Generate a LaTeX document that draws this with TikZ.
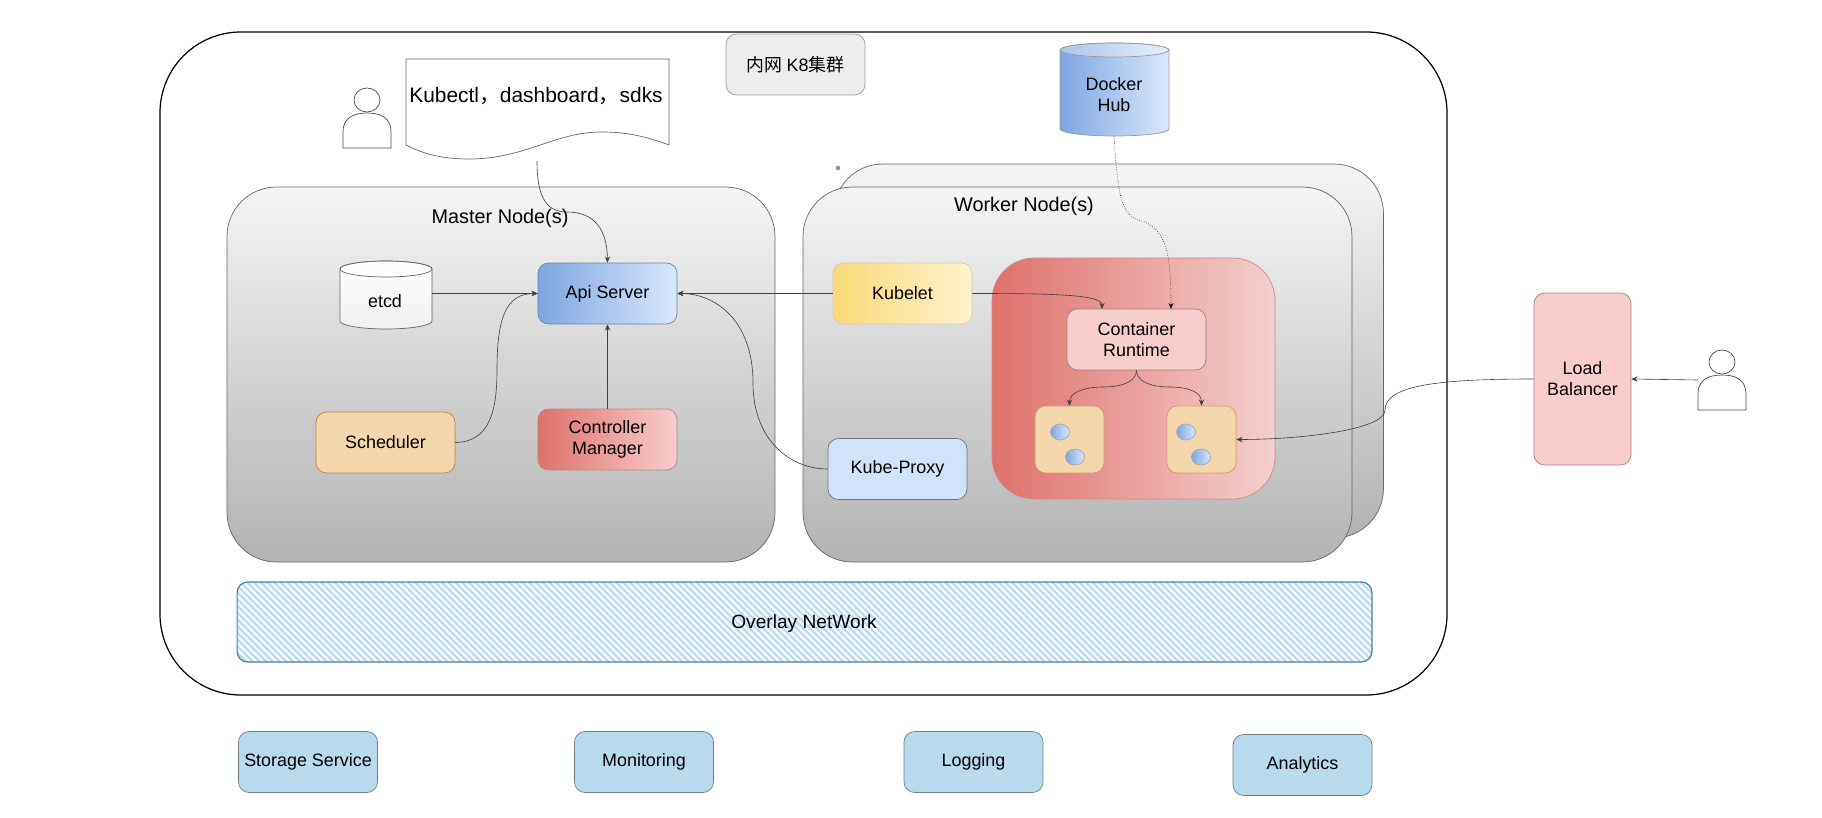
\documentclass[tikz,border=0pt]{standalone}
\usepackage{fontspec}
\setmainfont{Liberation Sans}
\newfontfamily\cjk{Noto Sans CJK SC}
\usetikzlibrary{shapes,shapes.geometric}
\usetikzlibrary{positioning,patterns.meta,arrows.meta}
\definecolor{frameg}{HTML}{666666}
\definecolor{bluel}{HTML}{7EA6E0}
\definecolor{bluer}{HTML}{DAE8FC}
\definecolor{redl}{HTML}{DF716C}
\definecolor{redr}{HTML}{F4D0CE}
\definecolor{pinkb}{HTML}{F8CECC}
\definecolor{sand}{HTML}{F5D7AE}
\definecolor{sky}{HTML}{B9D9ED}
\definecolor{goldl}{HTML}{F9D977}
\definecolor{goldr}{HTML}{FFF2CC}
\definecolor{ice}{HTML}{D0E3FB}
\definecolor{netline}{HTML}{4A7FA5}
\tikzset{
  block/.style={draw,rounded corners=6pt,inner sep=0pt,minimum width=2.78cm,minimum height=1.22cm,align=center,font=\fontsize{10.2}{12}\selectfont},
  nodebox/.style={draw=frameg,rounded corners=28pt,inner sep=0pt,top color=black!4,bottom color=black!30,minimum height=7.5cm},
  svc/.style={block,draw=sky!60!black,fill=sky},
  podbox/.style={block,draw=orange!70!black!60,fill=sand,minimum width=1.38cm,minimum height=1.34cm},
  dotc/.style={draw=black!35,inner sep=0pt,ellipse,minimum width=0.38cm,minimum height=0.32cm,left color=bluel,right color=bluer},
  link/.style={draw=black!75,line width=0.35pt,-{Stealth[length=3.5pt,width=3pt]}},
  caption/.style={font=\fontsize{11.3}{13}\selectfont,inner sep=0pt},
  drumtxt/.style={inner sep=0pt,align=center,font=\fontsize{10.2}{12}\selectfont}
}
% user figure: centre of the head, then name of the free end
\newcommand{\drawuser}[3]{
  \draw[black!70,fill=white,line width=0.4pt](#1,#2) ellipse (13 and 12);
  \draw[black!70,fill=white,line width=0.4pt](#1-24,#2+48) -- (#1-24,#2+32) .. controls (#1-24,#2+18) and (#1-14,#2+13) .. (#1,#2+13) .. controls (#1+14,#2+13) and (#1+24,#2+18) .. (#1+24,#2+32) -- (#1+24,#2+48) -- cycle;
  \coordinate (#3) at (#1-24,#2+18);
}
% drum: centre x, half width, top, bottom, depth of the ellipse, looks
\newcommand{\drawdrum}[6]{
  \draw[line width=0.4pt,#6](#1-#2,#3+#5) -- (#1-#2,#4-#5) arc[start angle=180,end angle=0,x radius=#2,y radius=#5] -- (#1+#2,#3+#5) arc[start angle=0,end angle=-180,x radius=#2,y radius=#5] -- cycle;
  \draw[line width=0.4pt,#6,top color=white,bottom color=white,left color=white,right color=white,fill opacity=0.35](#1-#2,#3+#5) arc[start angle=180,end angle=0,x radius=#2,y radius=#5] arc[start angle=0,end angle=-180,x radius=#2,y radius=#5] -- cycle;
}
\begin{document}
\begin{tikzpicture}
\begin{scope}[x=0.02cm,y=-0.02cm]
\useasboundingbox (0,0) rectangle (1822,818);

% outer cluster
\draw[line width=0.7pt,rounded corners=46pt](160,32) rectangle (1447,695);
\draw(795.5,64.5) node[block,draw=black!40,fill=black!7,minimum height=1.22cm] (title) {\cjk 内网 \normalfont K8\cjk 集群};
\drawdrum{1114.5}{54.5}{43}{136}{7}{draw=black!40,left color=bluel,right color=bluer}
\draw(1114,95) node[drumtxt,minimum width=2.18cm,minimum height=1.64cm] (hub) {Docker\\Hub};

% kubectl sheet
\drawuser{367}{100}{userA}
\draw[black!60,line width=0.4pt,fill=white](406,59) -- (669,59) -- (669,145) .. controls (640,134) and (620,132) .. (601,132) .. controls (555,132) and (525,159) .. (469,159) .. controls (445,159) and (425,155) .. (406,145) -- cycle;
\draw(536,96) node[inner sep=0pt,font=\fontsize{11.9}{14}\selectfont] (tools) {Kubectl{\cjk ，}dashboard{\cjk ，}sdks};
\coordinate (toolsout) at (537,161);

% master
\draw(501,374.5) node[nodebox,minimum width=10.96cm] (master) {};
\draw(500,218.5) node[caption] (mastertxt) {Master Node(s)};
\draw(607.5,293.5) node[block,draw=bluel!80!black,left color=bluel,right color=bluer] (api) {Api Server};
\drawdrum{386}{46}{261}{329}{8}{draw=black!60,top color=white,bottom color=black!6}
\draw(385,301) node[drumtxt] (etcd) {etcd};
\coordinate (etcdout) at (432,293.5);
\draw(385.5,442.5) node[block,draw=orange!60!black!70,fill=sand] (sched) {Scheduler};
\draw(607.5,439.5) node[block,draw=redl!70!black!70,left color=redl,right color=pinkb] (ctrl) {Controller\\Manager};

% worker
\draw(1108.5,351) node[nodebox,minimum width=11cm,minimum height=7.48cm] (workerB) {};
\draw(1077.5,374.5) node[nodebox,minimum width=10.98cm] (workerA) {};
\draw(838,168) node[circle,fill=black!45,inner sep=0pt,minimum size=2.5pt] (speck) {};
\draw(1024,206) node[caption] (workertxt) {Worker Node(s)};
\draw(902.5,293.5) node[block,draw=goldl!70!black!50,left color=goldl,right color=goldr] (kubelet) {Kubelet};
\draw(897.5,469) node[block,draw=black!55,fill=ice] (proxy) {Kube-Proxy};
\draw(1133.5,378.5) node[draw=redl!80!black!70,rounded corners=24pt,inner sep=0pt,left color=redl,right color=redr,minimum width=5.66cm,minimum height=4.82cm] (engine) {};
\draw(1136.5,339.5) node[block,draw=redl!60!black!70,fill=pinkb] (runtime) {Container\\Runtime};
\draw(1069.5,439.5) node[podbox] (podA) {};
\draw(1201.5,439.5) node[podbox] (podB) {};
\draw(1060,432) node[dotc] (podA1) {};
\draw(1075,457) node[dotc] (podA2) {};
\draw(1186,432) node[dotc] (podB1) {};
\draw(1201,457) node[dotc] (podB2) {};
\coordinate (rtinA) at (1102,309);
\coordinate (rtinB) at (1171,309);

% network
\draw[draw=none,fill=sky!18,rounded corners=6pt](237,582) rectangle (1372,662);
\draw(804.5,622) node[draw=netline,line width=0.7pt,rounded corners=6pt,inner sep=0pt,pattern={Lines[angle=-45,distance=2.7pt,line width=1.1pt]},pattern color=sky,minimum width=22.7cm,minimum height=1.6cm] (overlay) {};
\draw(804,624) node[inner sep=0pt,font=\fontsize{10.9}{12}\selectfont] (overlaytxt) {Overlay NetWork};

% balancer
\draw(1582.5,379) node[block,draw=redl!60!black!70,fill=pinkb,minimum width=1.94cm,minimum height=3.44cm] (lb) {Load\\Balancer};
\drawuser{1722}{362}{userB}

% services
\draw(308,762) node[svc] (storage) {Storage Service};
\draw(644,762) node[svc] (monitor) {Monitoring};
\draw(973.5,762) node[svc] (logging) {Logging};
\draw(1302.5,765) node[svc] (analytics) {Analytics};

% connectors
\draw[link](toolsout) .. controls (537,195) and (545,212) .. (567,212) .. controls (595,212) and (607,230) .. (api.north);
\draw[link](etcdout) -- (api.west);
\draw[link](sched.east) .. controls (490,442) and (497,410) .. (497,370) .. controls (497,320) and (505,293.5) .. (api.west);
\draw[link](ctrl.north) -- (api.south);
\draw[link](kubelet.west) -- (api.east);
\draw[link](proxy.west) .. controls (790,469) and (753,440) .. (753,383) .. controls (753,320) and (715,293.5) .. (api.east);
\draw[link](kubelet.east) .. controls (1060,293.5) and (1102,295) .. (rtinA);
\draw[link,densely dotted,draw=black!90](hub.south) .. controls (1118,195) and (1120,218) .. (1145,222) .. controls (1165,232) and (1171,250) .. (rtinB);
\draw[link](runtime.south) .. controls (1136.5,380) and (1125,387) .. (1103,387) .. controls (1085,387) and (1069.5,392) .. (podA.north);
\draw[link](runtime.south) .. controls (1136.5,380) and (1148,387) .. (1170,387) .. controls (1188,387) and (1201.5,392) .. (podB.north);
\draw[link](lb.west) .. controls (1440,379) and (1385,385) .. (1385,410) .. controls (1385,430) and (1300,439.5) .. (podB.east);
\draw[link](userB) -- (lb.east);
\end{scope}
\end{tikzpicture}
\end{document}
